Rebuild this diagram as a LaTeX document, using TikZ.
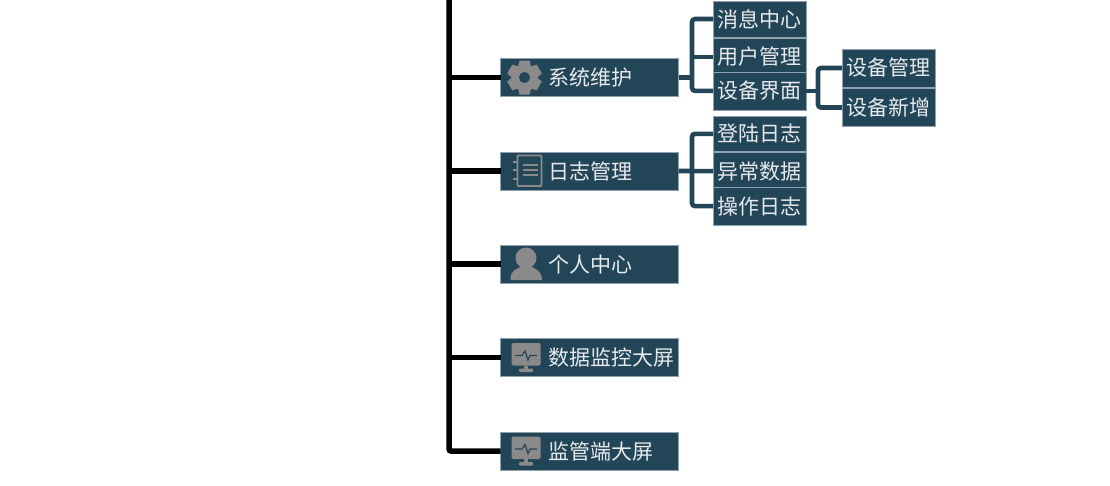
\documentclass[tikz,border=0pt]{standalone}
\usepackage{fontspec}
\setmainfont{Noto Sans CJK SC}
\usetikzlibrary{positioning}
\definecolor{boxblue}{HTML}{234558}
\definecolor{icongray}{HTML}{8A8A8A}
\definecolor{boxedge}{HTML}{8FA3AE}
\definecolor{boxtext}{HTML}{E6EAEC}
\tikzstyle{mainblock} = [rectangle, minimum width=178pt, minimum height=38pt, inner sep=0pt, outer sep=0pt, text width=178pt, align=left, draw=boxedge, line width=0.4pt, fill=boxblue, text=boxtext, font=\fontsize{21pt}{24pt}\selectfont, execute at begin node={\hspace*{47.5pt}}]
\tikzstyle{subblock} = [rectangle, minimum width=93pt, inner sep=0pt, outer sep=0pt, text width=90pt, align=center, draw=boxedge, line width=0.4pt, fill=boxblue, text=boxtext, font=\fontsize{21pt}{24pt}\selectfont]
\tikzstyle{trunk} = [draw=black, line width=5.5pt, rounded corners=2pt]
\tikzstyle{line} = [draw=boxblue, line width=4.6pt, rounded corners=3pt]
\tikzstyle{icon} = [fill=icongray, draw=none]
\begin{document}
\begin{tikzpicture}[x=1pt, y=-1pt]
\useasboundingbox (0,0) rectangle (1110,485);
% Place nodes
\node [mainblock, anchor=west] (sys) at (500.5,77.5) {系统维护};
\node [mainblock, below = 55.5pt of sys] (log) {日志管理};
\node [mainblock, below = 55pt of log] (me) {个人中心};
\node [mainblock, below = 55.5pt of me] (screen) {数据监控大屏};
\node [mainblock, below = 55.5pt of screen] (super) {监管端大屏};
\node [subblock, minimum height=36pt, anchor=north west] (msg) at (713,1) {消息中心};
\node [subblock, minimum height=38pt, below = 0.8pt of msg] (user) {用户管理};
\node [subblock, minimum height=38pt, below = -4pt of user] (dev) {设备界面};
\node [subblock, minimum height=35pt, below = 6.5pt of dev] (login) {登陆日志};
\node [subblock, minimum height=38pt, below = 0.8pt of login] (abn) {异常数据};
\node [subblock, minimum height=38pt, below = -3pt of abn] (oper) {操作日志};
\node [subblock, minimum height=38pt, anchor=north west] (devm) at (842,49) {设备管理};
\node [subblock, minimum height=38pt, below = 1.5pt of devm] (devn) {设备新增};
\coordinate (top) at (449,0);
% Trunk and branches
\path [trunk] (top) |- (super.west);
\path [trunk] (top |- sys.west) -- (sys.west);
\path [trunk] (top |- log.west) -- (log.west);
\path [trunk] (top |- me.west) -- (me.west);
\path [trunk] (top |- screen.west) -- (screen.west);
% Sub branches
\coordinate (forka) at (692,0);
\coordinate (forkb) at (818,0);
\path [line] (sys.east) -- (forka |- sys.east);
\path [line] (msg.west) -| (forka |- dev.west) -- (dev.west);
\path [line] (user.west) -- (forka |- user.west);
\path [line] (log.east) -- (abn.west);
\path [line] (login.west) -| (forka |- oper.west) -- (oper.west);
\path [line] (dev.east) -- (forkb |- dev.east);
\path [line] (devm.west) -| (forkb |- devn.west) -- (devn.west);
% Gear icon
\begin{scope}[shift={([xshift=24pt]sys.west)}]
\foreach \a in {0,60,...,300}
  \fill [icon, rotate=\a] (-5,-17) -- (5,-17) -- (7,-9) -- (-7,-9) -- cycle;
\fill [icon] (0,0) circle (13pt);
\fill [boxblue] (0,0) circle (5.5pt);
\end{scope}
% Notebook icon
\begin{scope}[shift={([xshift=27pt]log.west)}]
\draw [icongray, line width=1.8pt, rounded corners=1pt] (-10,-15.5) rectangle (14,15);
\draw [icongray, line width=2pt] (-15,-9) -- (-10,-9) (-15,-1) -- (-10,-1) (-15,8) -- (-10,8);
\draw [icongray, line width=2pt] (-5,-6) -- (10,-6) (-5,-1) -- (10,-1) (-5,4) -- (10,4);
\end{scope}
% Person icon
\begin{scope}[shift={([xshift=25.5pt]me.west)}]
\fill [icon] (0,-6) ellipse (10.5pt and 10.5pt);
\fill [icon] (-15.5,16) .. controls (-16,6) and (-9,5) .. (-4,2) -- (4,2) .. controls (9,5) and (16,6) .. (16,16) -- cycle;
\end{scope}
% Monitor icons
\foreach \m in {screen, super} {
\begin{scope}[shift={([xshift=25.5pt]\m.west)}]
\fill [icon, rounded corners=1.5pt] (-14.5,-14.5) rectangle (14.5,8);
\fill [icon] (-2,8) rectangle (2,11);
\fill [icon, rounded corners=1pt] (-7,11) rectangle (7,14.5);
\draw [boxblue, line width=1.2pt] (-11,-2) -- (-4,-2) -- (-1,-6.5) -- (2,2.5) -- (4,-2) -- (11,-2);
\end{scope}
}
\end{tikzpicture}
\end{document}
